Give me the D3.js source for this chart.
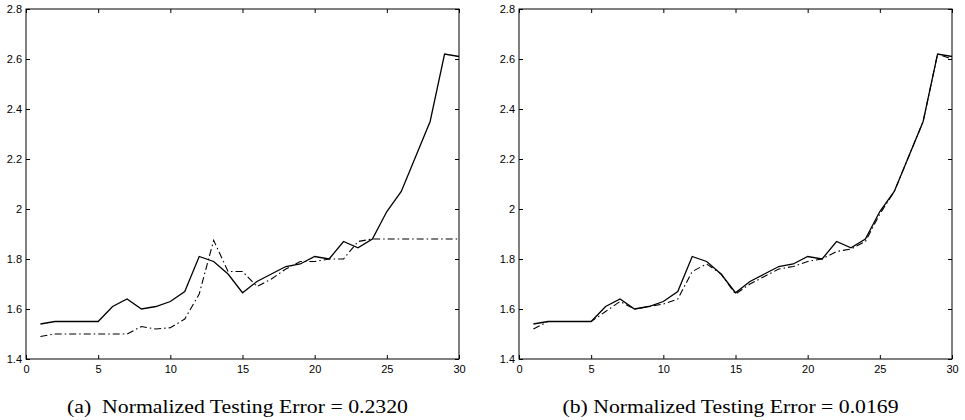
<!DOCTYPE html>
<html>
<head>
<meta charset="utf-8">
<script src="https://cdn.jsdelivr.net/npm/d3@7/dist/d3.min.js"></script>
<style>
  body { margin: 0; background: #fff; }
  .axis text { font-family: "Liberation Sans", Arial, sans-serif; font-size: 11px; fill: #000; }
  .axis line { stroke: #000; }
  .axis path { display: none; }
</style>
</head>
<body>
<svg id="chart" width="965" height="420"></svg>
<script>
'use strict';

// epochs (x axis)
var steps = d3.range(1, 31);

// solid line: target series (same in both panels)
var targetVals = [1.54, 1.55, 1.55, 1.55, 1.55, 1.61, 1.64, 1.60, 1.61, 1.63,
                  1.67, 1.81, 1.79, 1.74, 1.665, 1.71, 1.74, 1.77, 1.78, 1.81,
                  1.80, 1.87, 1.845, 1.88, 1.99, 2.07, 2.21, 2.35, 2.62, 2.61];

// dash-dot line, panel (a)
var predA = [1.49, 1.50, 1.50, 1.50, 1.50, 1.50, 1.50, 1.53, 1.52, 1.525,
             1.56, 1.66, 1.875, 1.75, 1.75, 1.69, 1.72, 1.76, 1.79, 1.79,
             1.80, 1.80, 1.87, 1.88, 1.88, 1.88, 1.88, 1.88, 1.88, 1.88];

// dash-dot line, panel (b)
var predB = [1.52, 1.55, 1.55, 1.55, 1.55, 1.59, 1.63, 1.60, 1.61, 1.62,
             1.64, 1.75, 1.78, 1.74, 1.66, 1.70, 1.73, 1.76, 1.77, 1.79,
             1.80, 1.83, 1.84, 1.87, 1.98, 2.07, 2.21, 2.35, 2.62, 2.60];

var xTicks = [0, 5, 10, 15, 20, 25, 30];
var yTicks = [1.4, 1.6, 1.8, 2, 2.2, 2.4, 2.6, 2.8];

var captions = ['(a)  Normalized Testing Error = 0.2320',
                '(b) Normalized Testing Error = 0.0169'];

var svg = d3.select('#chart');

var panels = [
  { left: 26, pred: predA, caption: captions[0], capWidth: 341 },
  { left: 519, pred: predB, caption: captions[1], capWidth: 336 }
];

var marginTop = 9;
var height = 350;
var width = 433;

panels.forEach(function(p) {
  var g = svg.append('g').attr('transform', 'translate(' + p.left + ',' + marginTop + ')');

  var x = d3.scaleLinear().domain([0, 30]).range([0, width]);
  var y = d3.scaleLinear().domain([1.4, 2.8]).range([height, 0]);

  // inward ticks on all four sides
  g.append('g').attr('class', 'axis')
    .attr('transform', 'translate(0,' + height + ')')
    .call(d3.axisBottom(x).tickValues(xTicks).tickSize(-4).tickSizeOuter(0).tickPadding(6)
      .tickFormat(d3.format('d')));
  g.append('g').attr('class', 'axis')
    .call(d3.axisTop(x).tickValues(xTicks).tickSize(-4).tickSizeOuter(0).tickFormat(''));
  g.append('g').attr('class', 'axis')
    .call(d3.axisLeft(y).tickValues(yTicks).tickSize(-4).tickSizeOuter(0).tickPadding(4)
      .tickFormat(function(d) { return d3.format('~g')(d); }));
  g.append('g').attr('class', 'axis')
    .attr('transform', 'translate(' + width + ',0)')
    .call(d3.axisRight(y).tickValues(yTicks).tickSize(-4).tickSizeOuter(0).tickFormat(''));

  g.append('rect')
    .attr('width', width)
    .attr('height', height)
    .attr('fill', 'none')
    .attr('stroke', '#000')
    .attr('stroke-width', 1);

  var line = d3.line()
    .x(function(d, i) { return x(steps[i]); })
    .y(function(d) { return y(d); });

  g.append('path')
    .datum(p.pred)
    .attr('d', line)
    .attr('fill', 'none')
    .attr('stroke', '#000')
    .attr('stroke-width', 1.1)
    .attr('stroke-dasharray', '7,3,1.5,3');

  g.append('path')
    .datum(targetVals)
    .attr('d', line)
    .attr('fill', 'none')
    .attr('stroke', '#000')
    .attr('stroke-width', 1.3);

  // caption, stretched a little to match the wider TeX font
  svg.append('text')
    .attr('x', p.left + width / 2 - 5)
    .attr('y', 413)
    .attr('text-anchor', 'middle')
    .attr('font-family', '"Liberation Serif", "DejaVu Serif", serif')
    .attr('font-size', '19px')
    .attr('textLength', p.capWidth)
    .attr('lengthAdjust', 'spacingAndGlyphs')
    .attr('xml:space', 'preserve')
    .text(p.caption);
});
</script>
</body>
</html>
